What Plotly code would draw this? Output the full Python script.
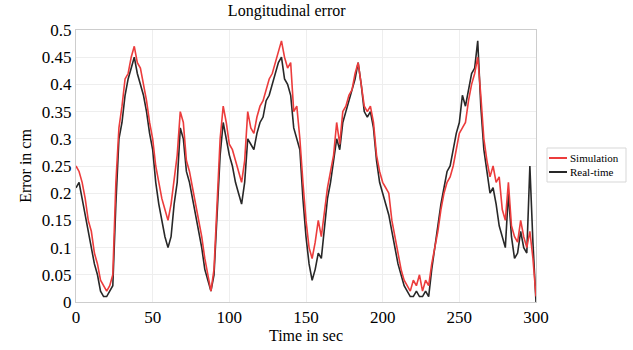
import plotly.graph_objects as go

# time axis (s), sampled every 2 s
time_s = list(range(0, 301, 2))

simulation = [
    0.25, 0.24, 0.22, 0.19, 0.15, 0.13, 0.09, 0.07, 0.04, 0.03,
    0.02, 0.03, 0.05, 0.22, 0.32, 0.36, 0.41, 0.42, 0.45, 0.47,
    0.44, 0.43, 0.40, 0.37, 0.33, 0.30, 0.25, 0.22, 0.19, 0.17,
    0.15, 0.18, 0.22, 0.27, 0.35, 0.33, 0.26, 0.24, 0.21, 0.18,
    0.15, 0.12, 0.08, 0.05, 0.02, 0.06, 0.18, 0.30, 0.36, 0.33,
    0.29, 0.28, 0.26, 0.24, 0.22, 0.26, 0.35, 0.32, 0.31, 0.34,
    0.36, 0.37, 0.39, 0.41, 0.42, 0.44, 0.46, 0.48, 0.45, 0.43,
    0.44, 0.35, 0.36, 0.30, 0.22, 0.15, 0.10, 0.08, 0.11, 0.15,
    0.12, 0.17, 0.21, 0.24, 0.27, 0.33, 0.29, 0.35, 0.36, 0.38,
    0.39, 0.42, 0.44, 0.40, 0.36, 0.35, 0.36, 0.33, 0.27, 0.24,
    0.22, 0.21, 0.20, 0.15, 0.12, 0.09, 0.06, 0.04, 0.03, 0.02,
    0.04, 0.03, 0.05, 0.02, 0.04, 0.03, 0.07, 0.10, 0.13, 0.17,
    0.20, 0.22, 0.23, 0.25, 0.28, 0.31, 0.32, 0.33, 0.37, 0.40,
    0.42, 0.45, 0.38, 0.30, 0.26, 0.23, 0.25, 0.22, 0.23, 0.17,
    0.15, 0.22, 0.14, 0.12, 0.11, 0.15, 0.12, 0.10, 0.13, 0.08,
    0.01,
]

real_time = [
    0.21, 0.22, 0.19, 0.16, 0.13, 0.10, 0.07, 0.05, 0.02, 0.01,
    0.01, 0.02, 0.03, 0.18, 0.30, 0.33, 0.38, 0.41, 0.43, 0.45,
    0.42, 0.40, 0.38, 0.35, 0.31, 0.28, 0.22, 0.18, 0.15, 0.12,
    0.10, 0.12, 0.18, 0.22, 0.32, 0.30, 0.24, 0.22, 0.19, 0.16,
    0.13, 0.10, 0.06, 0.04, 0.02, 0.05, 0.16, 0.27, 0.33, 0.30,
    0.27, 0.25, 0.22, 0.20, 0.18, 0.22, 0.30, 0.29, 0.28, 0.31,
    0.33, 0.34, 0.37, 0.38, 0.40, 0.42, 0.44, 0.45, 0.41, 0.40,
    0.38, 0.32, 0.30, 0.28, 0.19, 0.12, 0.07, 0.04, 0.06, 0.09,
    0.08, 0.14, 0.19, 0.22, 0.26, 0.30, 0.28, 0.33, 0.35, 0.37,
    0.39, 0.41, 0.44, 0.40, 0.35, 0.34, 0.35, 0.32, 0.26, 0.22,
    0.20, 0.18, 0.16, 0.13, 0.10, 0.07, 0.05, 0.03, 0.02, 0.01,
    0.01, 0.02, 0.01, 0.01, 0.02, 0.01, 0.06, 0.10, 0.14, 0.18,
    0.21, 0.24, 0.25, 0.28, 0.31, 0.33, 0.38, 0.36, 0.39, 0.42,
    0.43, 0.48, 0.36, 0.28, 0.24, 0.20, 0.21, 0.18, 0.14, 0.12,
    0.10, 0.20, 0.12, 0.08, 0.09, 0.13, 0.10, 0.09, 0.25, 0.11,
    0.00,
]

series_names = ["Simulation", "Real-time"]
series_colors = ["rgb(236,60,60)", "rgb(40,40,40)"]

x_ticks = [0, 50, 100, 150, 200, 250, 300]
y_ticks = [0, 0.05, 0.1, 0.15, 0.2, 0.25, 0.3, 0.35, 0.4, 0.45, 0.5]
y_tick_labels = ["0", "0.05", "0.1", "0.15", "0.2", "0.25", "0.3", "0.35", "0.4", "0.45", "0.5"]

FONT = "Liberation Serif, Times New Roman, serif"

fig = go.Figure()
fig.add_trace(go.Scatter(x=time_s, y=real_time, mode="lines", name=series_names[1],
                         showlegend=False, line=dict(color=series_colors[1], width=1.6)))
fig.add_trace(go.Scatter(x=time_s, y=simulation, mode="lines", name=series_names[0],
                         showlegend=False, line=dict(color=series_colors[0], width=1.6)))

# compact legend box (drawn in paper coordinates, like the reference)
L, T, PW, PH = 76, 30, 460, 272
def px(x):
    return (x - L) / PW
def py(y):
    return (T + PH - y) / PH

fig.add_shape(type="rect", xref="paper", yref="paper", x0=px(547), x1=px(626), y0=py(182), y1=py(148),
              line=dict(color="rgb(215,215,215)", width=1), fillcolor="white")
for i, (name, col) in enumerate(zip(series_names, series_colors)):
    yy = 158 + 14 * i
    fig.add_shape(type="line", xref="paper", yref="paper", x0=px(549), x1=px(567), y0=py(yy), y1=py(yy),
                  line=dict(color=col, width=2))
    fig.add_annotation(xref="paper", yref="paper", x=px(568), y=py(yy), text=name, showarrow=False,
                       xanchor="left", yanchor="middle", font=dict(size=11, family=FONT, color="black"))

fig.update_layout(
    width=633, height=350,
    margin=dict(l=L, r=633 - L - PW, t=T, b=350 - T - PH, autoexpand=False),
    paper_bgcolor="white", plot_bgcolor="white",
    font=dict(family=FONT, color="black", size=17),
    title=dict(text="Longitudinal error", x=290/633, xanchor="center", xref="paper",
               y=1 - 5/350, yanchor="top", font=dict(size=16, family=FONT)),
    showlegend=False,
)
fig.update_xaxes(range=[0, 300], tickvals=x_ticks, ticktext=[str(v) for v in x_ticks],
                 tickfont=dict(size=17, family=FONT, color="black"), showgrid=True, automargin=False,
                 gridcolor="rgb(238,238,238)", showline=True, linecolor="rgb(205,205,205)",
                 mirror=True, zeroline=False, ticks="",
                 title=dict(text="Time in sec", font=dict(size=16, family=FONT), standoff=2))
fig.update_yaxes(range=[0, 0.5], tickvals=y_ticks, ticktext=y_tick_labels,
                 tickfont=dict(size=17, family=FONT, color="black"), showgrid=True, automargin=False,
                 gridcolor="rgb(238,238,238)", showline=True, linecolor="rgb(205,205,205)",
                 mirror=True, zeroline=False, ticks="",
                 title=dict(text="Error in cm", font=dict(size=16, family=FONT), standoff=6))

fig.write_html("out.html", config={"displayModeBar": False},
               post_script="document.body.style.margin='0px';")
